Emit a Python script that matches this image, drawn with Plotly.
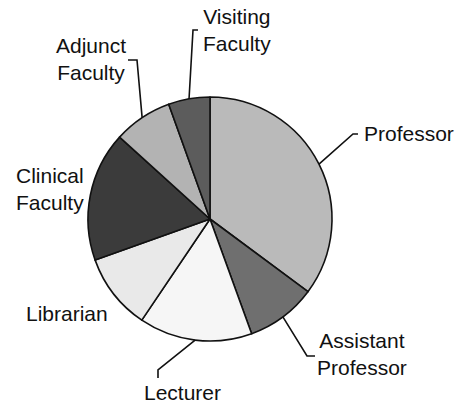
import math
import plotly.graph_objects as go

W, H = 461, 406

categories = ["Professor", "Assistant Professor", "Lecturer", "Librarian",
              "Clinical Faculty", "Adjunct Faculty", "Visiting Faculty"]
values = [35.2, 9.3, 15.0, 10.1, 17.2, 7.8, 5.5]
label_texts = ["Professor", "Assistant<br>Professor", "Lecturer", "Librarian",
               "Clinical<br>Faculty", "Adjunct<br>Faculty", "Visiting<br>Faculty"]
colors = ["#bababa", "#6f6f6f", "#f6f6f6", "#e9e9e9", "#3b3b3b", "#b3b3b3", "#5c5c5c"]

# layout (pixels): pie centre & radius
CX, CY, R = 210, 219, 122
# label centre positions (px) and leader elbow points (px), None = no leader
label_pos = [(409, 133), (362, 354), (182, 392), (67, 313), (50, 189), (91, 59), (237, 30)]
elbows = [[(353, 134), (358, 134)],
          [(307, 356), (315, 356)],
          [(158, 370), (158, 378)],
          None,
          None,
          [(137, 60), (128, 60)],
          [(193, 30), (198, 30)]]


def px(x, y):
    return x / W, 1 - y / H


fig = go.Figure()
fig.add_trace(go.Pie(
    labels=categories, values=values, sort=False, direction="clockwise",
    rotation=0, textinfo="none", hoverinfo="label+percent", showlegend=False,
    marker=dict(colors=colors, line=dict(color="#111111", width=1.6)),
    domain=dict(x=[(CX - R) / W, (CX + R) / W], y=[1 - (CY + R) / H, 1 - (CY - R) / H]),
))

total = sum(values)
cum = 0.0
shapes = []
annotations = []
for i, v in enumerate(values):
    mid = (cum + v / 2) / total * 360.0
    cum += v
    ex = CX + R * math.sin(math.radians(mid))
    ey = CY - R * math.cos(math.radians(mid))
    if elbows[i] is not None:
        pts = [(ex, ey)] + elbows[i]
        path = "M " + " L ".join(f"{px(x, y)[0]:.5f},{px(x, y)[1]:.5f}" for x, y in pts)
        shapes.append(dict(type="path", path=path, xref="paper", yref="paper",
                           line=dict(color="#111111", width=1.6)))
    lx, ly = label_pos[i]
    ax, ay = px(lx, ly)
    annotations.append(dict(
        x=ax, y=ay, xref="paper", yref="paper", text=label_texts[i],
        showarrow=False, xanchor="center", yanchor="middle", align="center",
        font=dict(family="Liberation Sans, Arial, sans-serif", size=21, color="#111111"),
    ))

fig.update_layout(
    width=W, height=H, margin=dict(l=0, r=0, t=0, b=0),
    paper_bgcolor="white", plot_bgcolor="white",
    shapes=shapes, annotations=annotations,
)

fig.write_html("out.html", config={"displayModeBar": False},
               post_script="document.body.style.margin='0';document.body.style.padding='0';")
